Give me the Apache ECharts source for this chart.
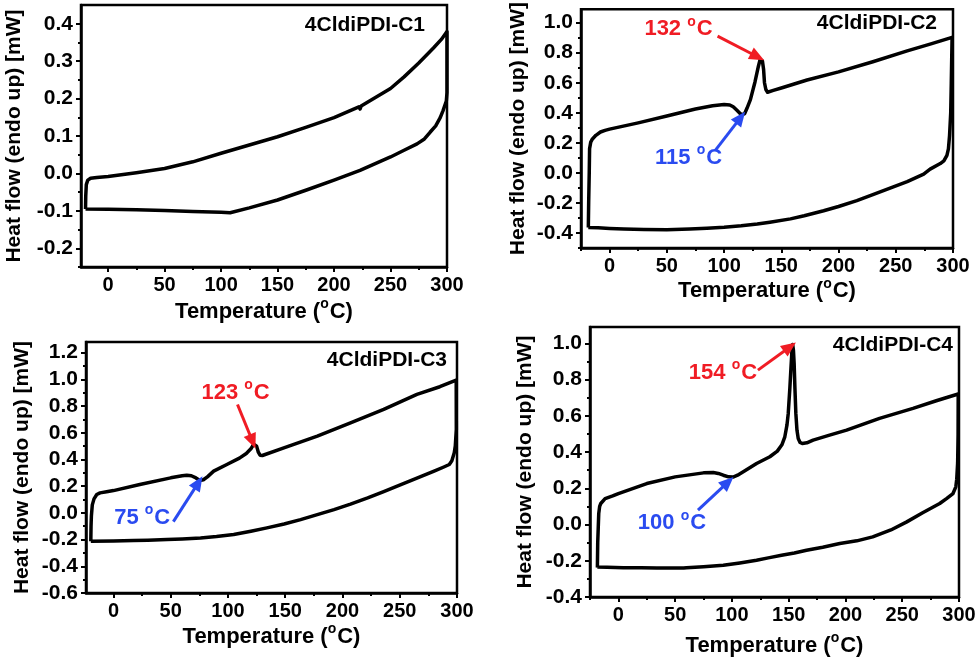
<!DOCTYPE html>
<html>
<head>
<meta charset="utf-8">
<script src="https://cdn.jsdelivr.net/npm/echarts@6/dist/echarts.min.js"></script>
<style>
  html, body { margin: 0; padding: 0; background: #fff; }
  #chart { width: 980px; height: 661px; }
</style>
</head>
<body>
<div id="chart"></div>
<script>
// DSC loops, [temperature (°C), heat flow (mW)]
// heating = upper branch (-20 -> 300), cooling = lower branch (300 -> -20)
const c1Heating = [[-20, -0.095], [-19.8, -0.06], [-19.3, -0.03], [-18, -0.018], [-15.5, -0.013], [-10, -0.011], [0, -0.008], [25, 0.002], [50, 0.013], [75, 0.031], [100, 0.054], [125, 0.076], [150, 0.098], [175, 0.123], [200, 0.149], [222, 0.178], [223, 0.172], [224, 0.18], [250, 0.227], [262, 0.258], [275, 0.295], [288, 0.335], [295, 0.358], [300, 0.379]];
const c1Cooling = [[300, 0.216], [299.4, 0.193], [296.5, 0.168], [294, 0.149], [290, 0.127], [285, 0.11], [280, 0.092], [273.5, 0.079], [262, 0.062], [250, 0.044], [237, 0.027], [223, 0.008], [200, -0.018], [175, -0.045], [150, -0.071], [125, -0.092], [108, -0.105], [100, -0.104], [75, -0.102], [50, -0.099], [25, -0.097], [0, -0.096], [-20, -0.095]];

const c2Heating = [[-18.6, -0.363], [-18.3, -0.2], [-17.8, 0.0], [-17.5, 0.161], [-16.5, 0.205], [-15, 0.226], [-12, 0.25], [-8, 0.272], [-4, 0.283], [0, 0.291], [25, 0.333], [50, 0.379], [75, 0.425], [90, 0.447], [100, 0.455], [105, 0.452], [108, 0.44], [111, 0.418], [114, 0.395], [116, 0.388], [118, 0.395], [120, 0.43], [123, 0.488], [127, 0.605], [130, 0.71], [131.5, 0.755], [132.4, 0.765], [133.5, 0.745], [134.5, 0.69], [135.3, 0.6], [136.5, 0.555], [138, 0.537], [139.5, 0.535], [143, 0.549], [150, 0.565], [172.5, 0.618], [200, 0.672], [230, 0.74], [260, 0.812], [280, 0.857], [299.2, 0.902]];
const c2Cooling = [[299.2, 0.9], [298.5, 0.6], [298, 0.4], [297, 0.25], [296, 0.16], [294.7, 0.117], [292, 0.08], [288.9, 0.062], [280, 0.025], [274.4, -0.008], [260, -0.058], [245, -0.101], [230, -0.145], [216, -0.185], [200, -0.224], [187, -0.252], [170, -0.285], [158, -0.306], [140, -0.328], [129, -0.34], [115, -0.352], [100, -0.362], [85, -0.369], [70, -0.374], [50, -0.378], [30, -0.377], [12.5, -0.374], [0, -0.37], [-10, -0.366], [-18.6, -0.363]];

const c3Heating = [[-19.8, -0.2125], [-19.6, -0.1], [-19.3, -0.025], [-18.5, 0.06], [-17, 0.105], [-14.6, 0.1375], [-11.7, 0.15], [-6, 0.158], [0, 0.167], [23, 0.2125], [50, 0.2625], [60, 0.278], [64, 0.2825], [68, 0.278], [72, 0.262], [75.5, 0.243], [78.5, 0.248], [82, 0.27], [87.5, 0.3125], [99, 0.3625], [110, 0.41], [116, 0.445], [120, 0.48], [122.5, 0.515], [123.5, 0.52], [125, 0.5], [126.5, 0.455], [128, 0.432], [130, 0.43], [148.8, 0.4875], [178, 0.575], [207, 0.675], [236, 0.775], [265, 0.8875], [285, 0.945], [299.3, 0.995]];
const c3Cooling = [[299.6, 0.99], [299.4, 0.625], [298.5, 0.5], [297.6, 0.45], [295.5, 0.39], [293.3, 0.3625], [288, 0.342], [280, 0.3125], [265, 0.26], [251, 0.2125], [236, 0.16], [222, 0.1125], [207, 0.066], [192.6, 0.025], [178, -0.013], [163.4, -0.05], [149, -0.083], [134, -0.1125], [120, -0.138], [105, -0.1625], [90, -0.177], [76, -0.1875], [60, -0.195], [46.7, -0.2], [30, -0.204], [17.5, -0.2075], [0, -0.21], [-19.8, -0.2125]];

const c4Heating = [[-18.5, -0.238], [-18.2, -0.1], [-17.3, 0.06], [-16.5, 0.1], [-15.5, 0.116], [-11.7, 0.143], [-5, 0.158], [0, 0.171], [25, 0.226], [50, 0.263], [75, 0.285], [83.6, 0.287], [88, 0.282], [92.4, 0.272], [97, 0.263], [101, 0.262], [105, 0.272], [110, 0.291], [121.7, 0.337], [133.4, 0.374], [140, 0.405], [144, 0.44], [146.6, 0.484], [148.5, 0.55], [149.6, 0.613], [151, 0.75], [151.9, 0.853], [153, 0.975], [153.5, 0.993], [154.2, 0.96], [154.8, 0.889], [155.5, 0.75], [156.3, 0.613], [157.3, 0.52], [158.4, 0.475], [160, 0.453], [162, 0.447], [166, 0.451], [171.5, 0.466], [186, 0.493], [201, 0.521], [230, 0.586], [259.5, 0.641], [280, 0.683], [299.3, 0.72]];
const c4Cooling = [[299.5, 0.72], [299.2, 0.5], [298.8, 0.34], [298, 0.25], [297.2, 0.208], [294.7, 0.171], [289, 0.143], [283, 0.116], [268, 0.065], [254, 0.0145], [240, -0.03], [224, -0.068], [210, -0.09], [195, -0.105], [180, -0.125], [165.7, -0.142], [155, -0.157], [143.7, -0.17], [132, -0.184], [121.7, -0.197], [107, -0.212], [92.4, -0.225], [75, -0.233], [60, -0.238], [58.5, -0.227], [57.5, -0.24], [45, -0.24], [34, -0.24], [20, -0.239], [4.4, -0.238], [-10, -0.236], [-18.5, -0.234]];

// tick values
const tempTicks = [0, 50, 100, 150, 200, 250, 300];
const tempMinor = [-25, 25, 75, 125, 175, 225, 275];
const c1YTicks = [-0.2, -0.1, 0, 0.1, 0.2, 0.3, 0.4];
const c1YMinor = [-0.25, -0.15, -0.05, 0.05, 0.15, 0.25, 0.35];
const c2YTicks = [-0.4, -0.2, 0, 0.2, 0.4, 0.6, 0.8, 1.0];
const c2YMinor = [-0.5, -0.3, -0.1, 0.1, 0.3, 0.5, 0.7, 0.9];
const c3YTicks = [-0.6, -0.4, -0.2, 0, 0.2, 0.4, 0.6, 0.8, 1.0, 1.2];
const c3YMinor = [-0.5, -0.3, -0.1, 0.1, 0.3, 0.5, 0.7, 0.9, 1.1];
const c4YTicks = [-0.4, -0.2, 0, 0.2, 0.4, 0.6, 0.8, 1.0];
const c4YMinor = [-0.3, -0.1, 0.1, 0.3, 0.5, 0.7, 0.9];

const sampleNames = ['4CldiPDI-C1', '4CldiPDI-C2', '4CldiPDI-C3', '4CldiPDI-C4'];

// annotations: [label, text position, arrow from, arrow to, colour]
const c2Notes = [['132', [60.2, 0.956], [94.3, 0.91], [129.2, 0.773], 'red'], ['115', [69, 0.1], [92.5, 0.152], [114.4, 0.368], 'blue']];
const c3Notes = [['123', [106.6, 0.902], [108.3, 0.812], [121.5, 0.535], 'red'], ['75', [25.1, -0.035], [52.3, -0.065], [74.2, 0.227], 'blue']];
const c4Notes = [['154', [92.1, 0.836], [122.9, 0.852], [151, 0.98], 'red'], ['100', [47.2, 0.007], [70.1, 0.079], [96.5, 0.234], 'blue']];

const RED = '#f01c24';
const BLUE = '#2a4bf0';
const FONT = '"Liberation Sans", Arial, sans-serif';

const panels = [
  { grid: { left: 81, top: 5, width: 366, height: 262 }, xMin: -24, yMin: -0.25, yMax: 0.45, yTicks: c1YTicks, yMinor: c1YMinor, heat: c1Heating, cool: c1Cooling, notes: [], xGap: 30, yGap: 56, title: { right: 555, top: 15 } },
  { grid: { left: 581, top: 5, width: 372, height: 243 }, xMin: -25, yMin: -0.5, yMax: 1.09, yTicks: c2YTicks, yMinor: c2YMinor, heat: c2Heating, cool: c2Cooling, notes: c2Notes, xGap: 27, yGap: 52, title: { right: 43, top: 13 } },
  { grid: { left: 86, top: 342, width: 371, height: 251 }, xMin: -24, yMin: -0.6, yMax: 1.28, yTicks: c3YTicks, yMinor: c3YMinor, heat: c3Heating, cool: c3Cooling, notes: c3Notes, xGap: 29, yGap: 53, title: { right: 533, top: 350 } },
  { grid: { left: 590, top: 327, width: 369, height: 270 }, xMin: -25, yMin: -0.4, yMax: 1.09, yTicks: c4YTicks, yMinor: c4YMinor, heat: c4Heating, cool: c4Cooling, notes: c4Notes, xGap: 34, yGap: 54, title: { right: 27, top: 335 } }
];

const supRich = {
  n: { fontSize: 22, fontWeight: 'bold', fontFamily: FONT, color: '#000' },
  s: { fontSize: 14, fontWeight: 'bold', fontFamily: FONT, color: '#000', verticalAlign: 'top', padding: [0, 1, 15, 0] }
};

const grids = [], xAxes = [], yAxes = [], series = [], titles = [];

panels.forEach((p, i) => {
  grids.push(Object.assign({ show: true, borderColor: '#000', borderWidth: 2.5, backgroundColor: 'transparent' }, p.grid));
  titles.push({
    text: sampleNames[i], right: p.title.right, top: p.title.top, padding: 0,
    textStyle: { fontSize: 21, fontWeight: 'bold', fontFamily: FONT, color: '#000' }
  });
  // main x axis
  xAxes.push({
    type: 'value', gridIndex: i, min: p.xMin, max: 300, position: 'bottom',
    name: '{n|Temperature (}{s|o}{n|C)}', nameLocation: 'middle', nameGap: p.xGap,
    nameTextStyle: { rich: supRich },
    axisLine: { onZero: false, lineStyle: { color: '#000', width: 2.5 } },
    axisTick: { customValues: tempTicks, length: 5, lineStyle: { color: '#000', width: 2 } },
    axisLabel: { customValues: tempTicks, margin: 8, fontSize: 20, fontWeight: 'bold', fontFamily: FONT, color: '#000' },
    splitLine: { show: false }
  });
  // minor x ticks
  xAxes.push({
    type: 'value', gridIndex: i, min: p.xMin, max: 300, position: 'bottom',
    axisLine: { show: false, onZero: false },
    axisTick: { customValues: tempMinor.filter(v => v >= p.xMin), length: 3, lineStyle: { color: '#000', width: 2 } },
    axisLabel: { show: false }, splitLine: { show: false }
  });
  yAxes.push({
    type: 'value', gridIndex: i, min: p.yMin, max: p.yMax, position: 'left',
    name: 'Heat flow (endo up) [mW]', nameLocation: 'middle', nameGap: p.yGap,
    nameTextStyle: { fontSize: 21, fontWeight: 'bold', fontFamily: FONT, color: '#000' },
    axisLine: { onZero: false, lineStyle: { color: '#000', width: 2.5 } },
    axisTick: { customValues: p.yTicks, length: 5, lineStyle: { color: '#000', width: 2 } },
    axisLabel: { customValues: p.yTicks, margin: 8, fontSize: 21, fontWeight: 'bold', fontFamily: FONT, color: '#000', formatter: v => v.toFixed(1) },
    splitLine: { show: false }
  });
  yAxes.push({
    type: 'value', gridIndex: i, min: p.yMin, max: p.yMax, position: 'left',
    axisLine: { show: false, onZero: false },
    axisTick: { customValues: p.yMinor, length: 3, lineStyle: { color: '#000', width: 2 } },
    axisLabel: { show: false }, splitLine: { show: false }
  });

  const noteColor = c => (c === 'red' ? RED : BLUE);
  series.push({
    type: 'line', xAxisIndex: i * 2, yAxisIndex: i * 2,
    data: p.heat.concat(p.cool),
    showSymbol: false, symbol: 'none',
    lineStyle: { color: '#000', width: 3.5, join: 'round' },
    smooth: false, animation: false, silent: true,
    markLine: {
      silent: true, animation: false,
      symbol: ['none', 'triangle'], symbolSize: [13, 15],
      label: { show: false },
      data: p.notes.map(n => [
        { coord: n[2], lineStyle: { color: noteColor(n[4]), width: 3, type: 'solid' } },
        { coord: n[3] }
      ])
    },
    markPoint: {
      silent: true, animation: false,
      symbol: 'circle', symbolSize: 0,
      data: p.notes.map(n => ({
        coord: n[1],
        label: {
          show: true, position: 'inside',
          formatter: '{a|' + n[0] + ' }{b|o}{a|C}',
          rich: {
            a: { fontSize: 22, fontWeight: 'bold', fontFamily: FONT, color: noteColor(n[4]) },
            b: { fontSize: 14, fontWeight: 'bold', fontFamily: FONT, color: noteColor(n[4]), verticalAlign: 'top', padding: [0, 1, 15, 0] }
          }
        }
      }))
    }
  });
});

const chart = echarts.init(document.getElementById('chart'), null, { renderer: 'canvas' });
chart.setOption({
  backgroundColor: '#fff',
  animation: false,
  title: titles,
  grid: grids,
  xAxis: xAxes,
  yAxis: yAxes,
  series: series
});
</script>
</body>
</html>
